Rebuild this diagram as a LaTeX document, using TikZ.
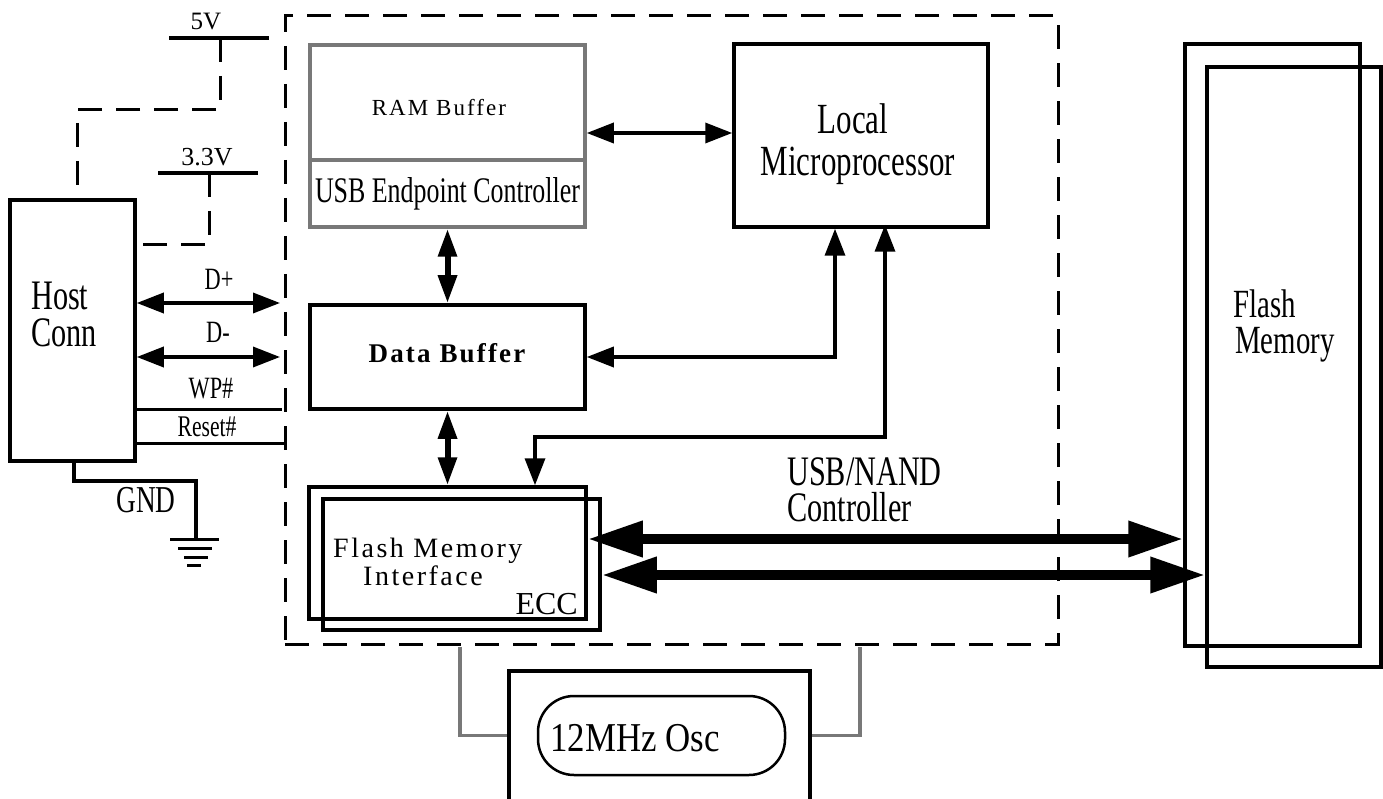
\documentclass[tikz,border=0pt]{standalone}
\usepackage{fontspec}
\setmainfont{Liberation Serif}
\newfontfamily\condfont{Liberation Serif}[FakeStretch=0.72]
\newfontfamily\oscfont{Liberation Serif}[FakeStretch=0.85]
\newfontfamily\wideserif{Liberation Serif}[LetterSpace=9]
\usetikzlibrary{arrows.meta}
\definecolor{boxgray}{RGB}{120,120,120}
\newcommand\fsz[1]{\fontsize{#1}{#1}\selectfont}

\begin{document}
\begin{tikzpicture}[x=1pt,y=-1pt,
  blk/.style={draw, line width=3.5pt, inner sep=0pt, fill=none},
  graybox/.style={draw=boxgray, line width=3.5pt, inner sep=0pt},
  txt/.style={inner sep=0pt, text=black},
  dashline/.style={line width=3pt, dash pattern=on 24pt off 14pt},
  bar/.style={line width=4pt},
  sig/.style={line width=3pt},
  dbl/.style={line width=3.5pt, arrows={Triangle[length=27pt,width=20pt]-Triangle[length=27pt,width=20pt]}},
  vbus/.style={line width=6pt, arrows={Triangle[length=28pt,width=18pt]-Triangle[length=28pt,width=18pt]}},
  bigbus/.style={line width=10pt, arrows={Triangle[length=55pt,width=34pt]-Triangle[length=55pt,width=34pt]}},
  clk/.style={draw=boxgray, line width=3.5pt}
]
\useasboundingbox (0,0) rectangle (1383,799);
\clip (0,0) rectangle (1383,799);

% ---------- controller outline ----------
\node[draw, dashline, minimum width=773pt, minimum height=628pt, inner sep=0pt] (ctrl) at (671.5,330) {};

% ---------- host connector ----------
\node[blk, minimum width=125pt, minimum height=261pt] (host) at (72.5,330.5) {};
\node[txt, anchor=base west, font=\condfont\fsz{42}] (hostlbl) at (31,309) {Host};
\node[txt, anchor=base west, font=\condfont\fsz{42}] (connlbl) at (31,346) {Conn};

% supply rails
\coordinate (v5L) at (169,38);
\coordinate (v5R) at (269,38);
\coordinate (v5tap) at (220,38);
\coordinate (v5a) at (220,110);
\coordinate (v5b) at (77,110);
\draw[bar] (v5L) -- (v5R);
\node[txt, font=\fsz{25}] (v5lbl) at (206,22) {5V};
\draw[dashline] (v5tap) -- (v5a) -- (v5b) -- (v5b |- host.north);

\coordinate (v3L) at (158,173);
\coordinate (v3R) at (258,173);
\coordinate (v3tap) at (209,173);
\coordinate (v3a) at (209,245);
\draw[bar] (v3L) -- (v3R);
\node[txt, font=\fsz{26}] (v3lbl) at (207,157) {3.3V};
\draw[dashline] (v3tap) -- (v3a) -- (v3a -| host.east);

% USB data and control lines
\coordinate (dpR) at (280,303);
\coordinate (dmR) at (280,357);
\coordinate (wpR) at (282,409);
\coordinate (rsR) at (284,443);
\draw[dbl] (dpR -| host.east) -- (dpR);
\draw[dbl] (dmR -| host.east) -- (dmR);
\draw[sig] (wpR -| host.east) -- (wpR);
\draw[sig] (rsR -| host.east) -- (rsR);
\node[txt, font=\condfont\fsz{31}] (dplbl) at (219,279) {D+};
\node[txt, font=\condfont\fsz{31}] (dmlbl) at (218,332) {D-};
\node[txt, font=\condfont\fsz{31}] (wplbl) at (211,389) {WP\#};
\node[txt, font=\condfont\fsz{30}] (rslbl) at (207,427) {Reset\#};

% ground
\coordinate (g0) at (74,481);
\coordinate (gnd) at (196,539);
\draw[sig, line width=3.5pt] (g0 |- host.south) -- (g0) -- (g0 -| gnd) -- (gnd);
\draw[sig] (170,539) -- (219,539);
\draw[sig] (178,548) -- (212,548);
\draw[sig] (184,557) -- (208,557);
\draw[sig] (187,565) -- (201,565);
\node[txt, font=\condfont\fsz{38}] (gndlbl) at (146,500) {GND};

% ---------- buffers ----------
\node[graybox, minimum width=275pt, minimum height=115pt] (ram) at (447.5,102.5) {};
\node[txt, font=\wideserif\fsz{23}] (ramlbl) at (439,108) {RAM Buffer};
\node[graybox, minimum width=275pt, minimum height=67pt, font=\condfont\fsz{36}] (usbep) at (447.5,193.5) {USB Endpoint Controller};

\node[blk, minimum width=275pt, minimum height=104pt] (databuf) at (447.5,357) {};
\node[txt, font=\bfseries\addfontfeature{LetterSpace=8}\fsz{27}] (dblbl) at (447,353) {Data Buffer};

% ---------- microprocessor ----------
\node[blk, minimum width=254pt, minimum height=183pt] (micro) at (861,135.5) {};
\node[txt, anchor=base, font=\condfont\fsz{43}] (locallbl) at (853,134) {Local};
\node[txt, anchor=base, font=\condfont\fsz{43}] (microlbl) at (858,176) {Microprocessor};

% ---------- flash memory interface ----------
\node[blk, minimum width=277pt, minimum height=132pt] (fmiA) at (447.5,553) {};
\node[blk, minimum width=277pt, minimum height=131pt] (fmiB) at (461.5,564.5) {};
\node[txt, anchor=west, font=\wideserif\fsz{28}] (fmilbl) at (333,551) {Flash Memory};
\node[txt, font=\wideserif\fsz{28}] (fmilbl2) at (423,576) {Interface};
\node[txt, anchor=east, font=\fsz{32}] (ecclbl) at (578,604) {ECC};

% ---------- flash array ----------
\node[blk, minimum width=175pt, minimum height=602pt] (flashA) at (1272.5,345) {};
\node[blk, minimum width=174pt, minimum height=600pt] (flashB) at (1294,367) {};
\node[txt, anchor=base west, font=\condfont\fsz{40}] (flashlbl) at (1233,318) {Flash};
\node[txt, anchor=base west, font=\condfont\fsz{40}] (memlbl) at (1235,353) {Memory};

\node[txt, anchor=base west, font=\condfont\fsz{42}] (usbnandlbl) at (787,485) {USB/NAND};
\node[txt, anchor=base west, font=\condfont\fsz{42}] (ctrllbl) at (787,521) {Controller};

% ---------- oscillator ----------
\node[blk, minimum width=301pt, minimum height=169pt] (oscbox) at (659.5,755.5) {};
\node[draw, line width=2.5pt, rounded corners=36pt, minimum width=247pt, minimum height=79pt, inner sep=0pt] (osc) at (661.5,735.5) {};
\node[txt, font=\oscfont\fsz{41}] (osclbl) at (635,738) {12MHz Osc};
\coordinate (ckL) at (460,647);
\coordinate (ckR) at (860,647);
\draw[clk] (ckL) -- (ckL |- osc.center) -- (oscbox.west |- osc.center);
\draw[clk] (ckR) -- (ckR |- osc.center) -- (oscbox.east |- osc.center);

% ---------- connectors ----------
\draw[dbl] (ram.east |- 0,133) -- (micro.west |- 0,133);
\draw[vbus] (usbep.south) -- (databuf.north -| usbep.south);
\draw[vbus] (databuf.south) -- (fmiA.north -| databuf.south);

\coordinate (mp1) at (835,357);
\draw[dbl] (micro.south -| mp1) -- (mp1) -- (databuf.east);

\coordinate (mp2) at (885,437);
\coordinate (mp3) at (535,437);
\draw[dbl] ([yshift=4pt]micro.south -| mp2) -- (mp2) -- (mp3) -- (mp3 |- fmiA.north);

\coordinate (busA) at (0,539);
\coordinate (busB) at (0,575);
\draw[bigbus] (fmiA.east |- busA) -- (flashA.west |- busA);
\draw[bigbus] (fmiB.east |- busB) -- (flashB.west |- busB);
\end{tikzpicture}
\end{document}
